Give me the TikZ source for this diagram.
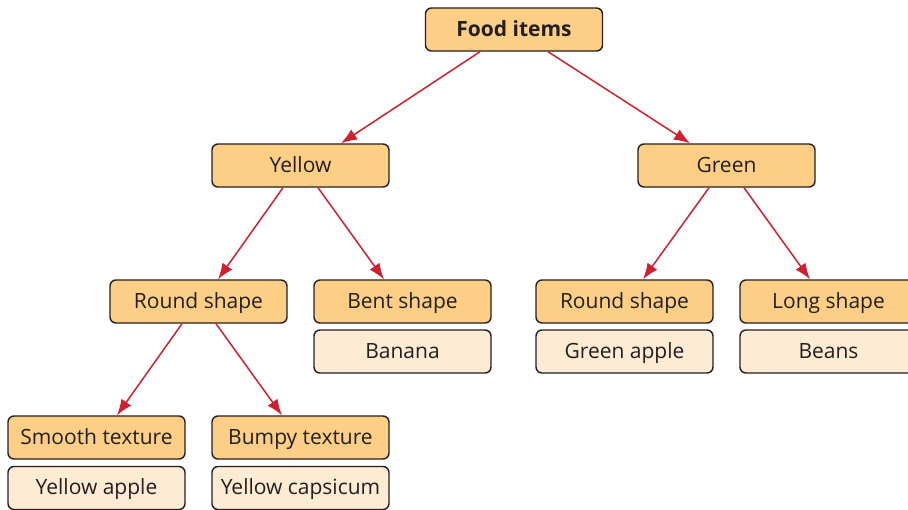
\documentclass[tikz,border=0pt]{standalone}
\usepackage{fontspec}
\setmainfont{Open Sans}
\usetikzlibrary{arrows.meta}
\definecolor{boxorange}{HTML}{FDCE86}
\definecolor{boxlight}{HTML}{FDEBD3}
\definecolor{arrred}{HTML}{D0202E}
\definecolor{edgegray}{HTML}{231F20}
\tikzset{
  catbox/.style={draw=edgegray, line width=1.4pt, rounded corners=6pt, fill=boxorange,
    minimum width=177pt, minimum height=43pt, inner sep=0pt, text height=16pt, text depth=3pt,
    font=\fontsize{21}{25}\selectfont, text=edgegray},
  itembox/.style={catbox, fill=boxlight},
  conn/.style={draw=arrred, line width=1.5pt, -{Latex[length=16pt,width=12pt]}}
}
\begin{document}
\begin{tikzpicture}[x=1pt,y=-1pt]
\useasboundingbox (0,0) rectangle (908,509);
\node[catbox, font=\fontsize{21}{25}\selectfont\bfseries] (food) at (514,29.5) {Food items};
\node[catbox] (yellow) at (300.5,165.5) {Yellow};
\node[catbox] (green) at (726.5,165.5) {Green};
\node[catbox] (roundL) at (198.5,301.5) {Round shape};
\node[catbox] (bent) at (402.5,301.5) {Bent shape};
\node[itembox] (banana) at (402.5,351.5) {Banana};
\node[catbox] (roundR) at (624.5,301.5) {Round shape};
\node[itembox] (gapple) at (624.5,351.5) {Green apple};
\node[catbox] (long) at (828.5,301.5) {Long shape};
\node[itembox] (beans) at (828.5,351.5) {Beans};
\node[catbox] (smooth) at (96.5,437.5) {Smooth texture};
\node[itembox] (yapple) at (96.5,488) {Yellow apple};
\node[catbox] (bumpy) at (300.5,437.5) {Bumpy texture};
\node[itembox] (ycaps) at (300.5,488) {Yellow capsicum};
\draw[conn] ([xshift=-34pt]food.south) -- ([xshift=40.5pt]yellow.north);
\draw[conn] ([xshift=34pt]food.south) -- ([xshift=-36.5pt]green.north);
\draw[conn] ([xshift=-17.5pt]yellow.south) -- ([xshift=19.5pt]roundL.north);
\draw[conn] ([xshift=17.5pt]yellow.south) -- ([xshift=-18.5pt]bent.north);
\draw[conn] ([xshift=-17.5pt]green.south) -- ([xshift=18.5pt]roundR.north);
\draw[conn] ([xshift=17.5pt]green.south) -- ([xshift=-18.5pt]long.north);
\draw[conn] ([xshift=-16.5pt]roundL.south) -- ([xshift=20.5pt]smooth.north);
\draw[conn] ([xshift=17.5pt]roundL.south) -- ([xshift=-18.5pt]bumpy.north);
\end{tikzpicture}
\end{document}
